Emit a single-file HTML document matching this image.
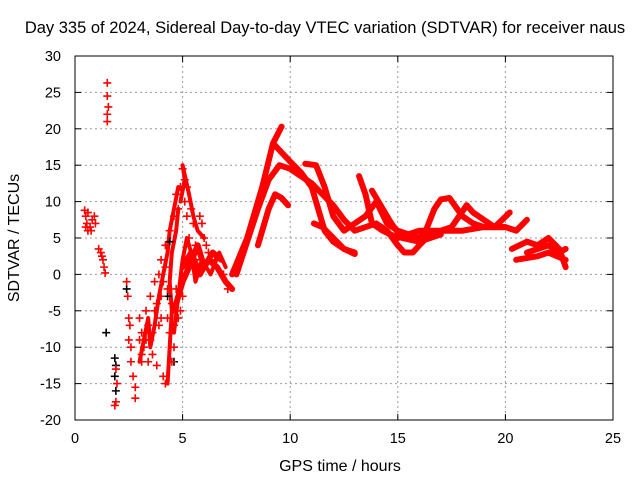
<!DOCTYPE html>
<html><head><meta charset="utf-8"><style>
body{margin:0;background:#fff;}
svg{display:block;font-family:"Liberation Sans",sans-serif;}
</style></head><body>
<svg id="chart" width="640" height="480" viewBox="0 0 640 480" xmlns="http://www.w3.org/2000/svg">
<rect width="640" height="480" fill="#fff"/>
<text x="325" y="33" font-size="16.5" text-anchor="middle">Day 335 of 2024, Sidereal Day-to-day VTEC variation (SDTVAR) for receiver naus</text>
<g id="grid"></g><g id="data"></g><g id="axes"></g>
<text x="340" y="471" font-size="16" text-anchor="middle">GPS time / hours</text>
<text x="19" y="238" font-size="16" text-anchor="middle" transform="rotate(-90 19 238)">SDTVAR / TECUs</text>
</svg>
<script>
const xTicks=[0,5,10,15,20,25];
const yTicks=[-20,-15,-10,-5,0,5,10,15,20,25,30];
const track1=[[7.3,0],[8,5],[8.7,12],[9.2,18],[9.6,20.3]];
const track1b=[[9.2,18],[10,15.5],[10.5,14],[11,12],[11.3,9],[11.6,6],[12,4.5],[12.5,3.5],[13,3]];
const track2=[[7.5,0],[8.5,9],[9,13],[9.5,15],[10,14.5],[10.5,13.5],[11,12.5],[11.5,11],[12,9.5],[12.5,7.5],[13,6],[13.5,6.5],[14,7],[14.5,6],[15,4],[15.3,3],[15.7,3],[16,4],[16.5,5.5],[17,6],[18,6],[19,6.5],[20,6.5]];
const track3=[[8.5,4],[9,9],[9.3,11],[9.6,10.5],[9.9,9.5]];
const track4=[[10.7,15.2],[11.2,15],[11.6,12],[12,8],[12.5,6],[13,7],[13.5,8],[14,10],[14.5,7],[15,6],[15.5,5.5],[16,5],[16.3,6],[16.7,9],[17,10.3],[17.4,10.5],[18,8],[18.5,7],[19,6.5],[20,6.5],[20.5,6],[21,7.5]];
const track5=[[11.1,7],[11.5,6.5],[12,5],[12.5,3.5],[13,2.8]];
const track6=[[13.2,13.5],[13.5,11],[13.8,7],[14.3,6],[15,5],[15.5,5.5],[16,6],[17,6],[17.5,6.5],[18.2,9.5],[18.5,8.5],[19,7.5],[19.5,6.5],[20.2,8.5]];
const track7=[[13.8,11.5],[14.2,9.5],[14.7,7],[15.2,5],[16,4.5],[16.5,5],[17,5.5]];
const track8=[[20.3,3.5],[21,4.5],[21.5,4],[22,5],[22.5,3.5],[22.8,1]];
const track9=[[20.5,2],[21.5,2.5],[22,3],[22.8,2]];
const track10=[[21,3],[21.5,3.5],[22,4],[22.5,3],[22.8,3.5]];
const track11=[[5,1],[5.4,3],[5.8,0],[6.2,2],[6.6,1],[7,-1],[7.3,-2]];
const track12=[[4.6,-5],[5,-1],[5.3,1],[5.7,4],[6,1],[6.4,3],[6.8,2]];
const track13=[[4.6,-8],[4.8,-3],[5,2],[5.2,5],[5.4,3],[5.6,-1],[5.9,2],[6.3,0],[6.7,3],[7,1]];
const track14=[[4.9,10],[5.1,13],[5,15],[5.3,11],[5.5,8],[5.7,6],[6,5]];
const track15=[[3,-12],[3.2,-9],[3.4,-6],[3.5,-10],[3.7,-7],[3.9,-3],[4.1,0],[4.3,3],[4.4,6],[4.6,9],[4.8,12]];
const track16=[[4.3,-15],[4.4,-10],[4.5,-5],[4.4,-1],[4.5,3],[4.7,6],[4.8,9]];
const scatterRed=[[0.45,8.8],[0.5,8],[0.55,7],[0.6,6],[0.7,6.5],[0.8,7.5],[0.9,8],[0.95,7],[0.6,8.5],[0.5,6.5],[0.75,6],
[1.1,3.5],[1.2,3],[1.3,2],[1.35,1],[1.4,0.2],[1.25,2.5],
[1.5,26.3],[1.5,24.5],[1.55,23],[1.5,22],[1.5,21],
[1.9,-13],[1.95,-15],[1.9,-17.5],[1.85,-18],
[2.4,-1],[2.45,-3],[2.5,-6],[2.5,-9],[2.6,-12],[2.7,-14],[2.8,-15.5],[2.8,-17],[2.6,-10],[2.55,-7],
[3,-6],[3.1,-8],[3.2,-10],[3.1,-12],[3.3,-5],[3.4,-7],[3.5,-3],[3.5,-9],[3.6,-11],[3.7,-1],[3.8,-4],[3.8,-12.5],[3.9,0],[4,2],[4,-6],[4.1,-14],[4.2,-15],[4.2,4],[4.3,-2],[4.4,-8],[4.4,6],[4.5,-4],[4.6,8],[4.6,-10],[4.7,11],[4.8,-6],[4.8,9],[4.9,12],[5,14.5],[5,-3],[5.1,13],[5.2,8],[5.3,5],[5.5,7],[5.6,4],[5.8,8],[6,5],[6.2,3],
[3,-9],[3.1,-11],[3.3,-9],[3.4,-12],[3.6,-8],[3.7,-5],[3.9,-7],[4,-3],[4.1,-1],[4.2,1],[4.3,-6],[4.5,-12],[4.6,-7],[4.7,-2],[4.9,-5],[5.1,10],[5.2,12],[5.4,9],[5.6,2],[5.9,7],[6.1,4],[6.5,2],[6.9,0],[7.1,-2]];
const scatterBlack=[[1.45,-8],[1.85,-11.5],[1.9,-12.5],[1.85,-14],[1.9,-16],[2.4,-2],[4.4,4.5],[4.6,-12],[4.3,-3]];

const X=h=>75+h*21.52, Y=v=>56+(30-v)*7.28;
const NS="http://www.w3.org/2000/svg";
const g=document.getElementById('grid'),d=document.getElementById('data'),a=document.getElementById('axes');
function mk(tag,at,par){const e=document.createElementNS(NS,tag);for(const k in at)e.setAttribute(k,at[k]);par.appendChild(e);return e;}
xTicks.forEach(t=>{
 if(t>0&&t<25){const l=mk('line',{x1:X(t),x2:X(t),y1:56,y2:420,stroke:'#999','stroke-dasharray':'2,3'},g);
 
 }
 mk('line',{x1:X(t),x2:X(t),y1:420,y2:414,stroke:'#000'},a);
 mk('line',{x1:X(t),x2:X(t),y1:56,y2:62,stroke:'#000'},a);
 const tx=mk('text',{x:X(t),y:443,'font-size':14.5,'text-anchor':'middle'},a);tx.textContent=t;
 
 
});
yTicks.forEach(t=>{
 if(t>-20&&t<30){const l=mk('line',{x1:75,x2:613,y1:Y(t),y2:Y(t),stroke:'#999','stroke-dasharray':'2,3'},g);
 
 }
 mk('line',{x1:75,x2:81,y1:Y(t),y2:Y(t),stroke:'#000'},a);
 mk('line',{x1:613,x2:607,y1:Y(t),y2:Y(t),stroke:'#000'},a);
 const tx=mk('text',{x:61,y:Y(t)+5,'font-size':14.5,'text-anchor':'end'},a);tx.textContent=t;
 
 
});
const fr=mk('rect',{x:75,y:56,width:538,height:364,fill:'none',stroke:'#000'},a);


[track1,track1b,track2,track3,track4,track5,track6,track7,track8,track9,track10,track11,track12].forEach(tr=>{
 const p=mk('polyline',{points:tr.map(q=>X(q[0])+','+Y(q[1])).join(' '),fill:'none',stroke:'#f00','stroke-width':6,'stroke-linejoin':'round','stroke-linecap':'round'},d);
 
 
});
[track13,track14,track15,track16].forEach(tr=>{
 const p=mk('polyline',{points:tr.map(q=>X(q[0])+','+Y(q[1])).join(' '),fill:'none',stroke:'#f00','stroke-width':4,'stroke-linejoin':'round','stroke-linecap':'round'},d);
 
 
});
function plus(pt,col){const x=X(pt[0]),y=Y(pt[1]);
 const e=mk('path',{d:`M${x-4},${y}H${x+4}M${x},${y-4}V${y+4}`,stroke:col,'stroke-width':1.6},d);
 
 }
scatterBlack.forEach(p=>plus(p,'#000'));
scatterRed.forEach(p=>plus(p,'#f00'));
</script>
</body></html>
